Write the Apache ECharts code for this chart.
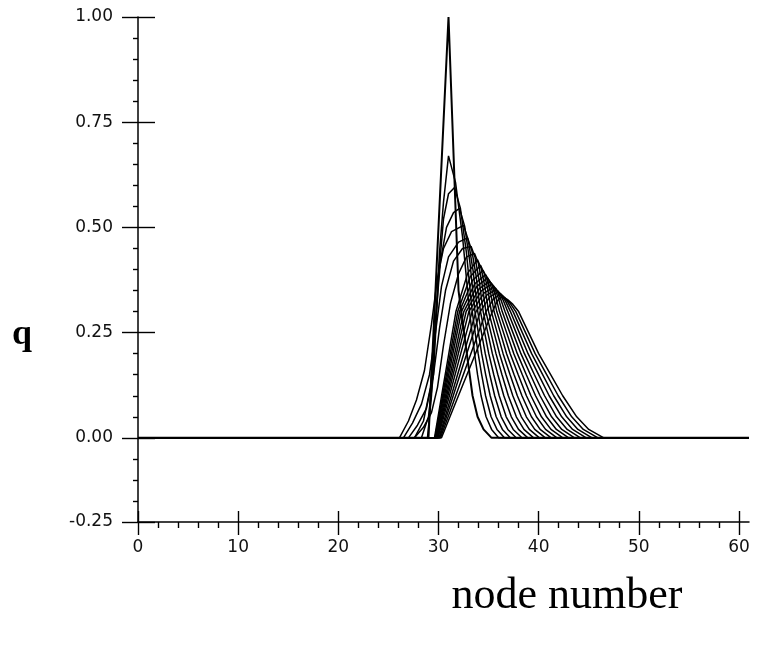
<!DOCTYPE html>
<html>
<head>
<meta charset="utf-8">
<script src="https://cdn.jsdelivr.net/npm/echarts@6/dist/echarts.min.js"></script>
<style>
html,body{margin:0;padding:0;background:#fff;}
#chart{width:759px;height:646px;}
</style>
</head>
<body>
<div id="chart"></div>
<script>
// ---- axis ticks / labels ----
const xMajor = [0, 10, 20, 30, 40, 50, 60];
const xMinor = [2,4,6,8,12,14,16,18,22,24,26,28,32,34,36,38,42,44,46,48,52,54,56,58];
const yMajorValues = [-0.2, 0, 0.25, 0.5, 0.75, 1.0];
const yMajorLabels = ['-0.25', '0.00', '0.25', '0.50', '0.75', '1.00'];
const yMinor = [-0.15,-0.1,-0.05,0.05,0.1,0.15,0.2,0.3,0.35,0.4,0.45,0.55,0.6,0.65,0.7,0.8,0.85,0.9,0.95];
const nodeFirst = 0, nodeLast = 61;

// ---- curves: [node, q] (non-zero part of each profile) ----
const c00 = [[29,0],[30,0.5],[31,1.0],[32,0.35],[32.55,0.25],[33,0.17],[33.4,0.1],[33.9,0.05],[34.5,0.02],[35.3,0]];
const c01 = [[28.9,0],[29.3,0.1],[29.7,0.27],[30.1,0.44],[30.5,0.56],[31,0.67],[31.7,0.607],[32.4,0.478],[33.1,0.3],[33.35,0.25],[33.6,0.2],[33.9,0.15],[34.25,0.1],[34.75,0.05],[35.3,0.02],[36.0,0]];
const c02 = [[28.3,0],[29,0.05],[29.5,0.15],[30,0.38],[30.5,0.52],[31,0.58],[31.6,0.595],[32.19,0.545],[32.78,0.442],[33.37,0.3],[33.66,0.25],[33.96,0.2],[34.31,0.15],[34.70,0.1],[35.25,0.05],[35.84,0.02],[36.58,0]];
const c03 = [[27.6,0],[28.5,0.04],[29.2,0.12],[29.7,0.28],[30.2,0.42],[30.8,0.5],[31.5,0.535],[32.1,0.545],[32.61,0.503],[33.13,0.418],[33.64,0.3],[33.98,0.25],[34.31,0.2],[34.71,0.15],[35.16,0.1],[35.76,0.05],[36.38,0.02],[37.17,0]];
const c04 = [[26.1,0],[27,0.04],[27.8,0.09],[28.6,0.16],[29.3,0.27],[29.9,0.38],[30.5,0.45],[31.3,0.49],[32.5,0.505],[32.97,0.47],[33.45,0.398],[33.92,0.3],[34.29,0.25],[34.67,0.2],[35.12,0.15],[35.61,0.1],[36.26,0.05],[36.92,0.02],[37.75,0]];
const c05 = [[26.5,0],[27.4,0.035],[28.3,0.08],[29.1,0.15],[29.7,0.25],[30.3,0.36],[31,0.43],[32,0.465],[32.9,0.475],[33.33,0.445],[33.76,0.384],[34.19,0.3],[34.61,0.25],[35.02,0.2],[35.52,0.15],[36.06,0.1],[36.76,0.05],[37.46,0.02],[38.33,0]];
const c06 = [[27,0],[27.9,0.03],[28.8,0.07],[29.5,0.15],[30.1,0.26],[30.7,0.35],[31.5,0.42],[32.4,0.45],[33.25,0.455],[33.65,0.429],[34.06,0.374],[34.46,0.3],[34.92,0.25],[35.38,0.2],[35.93,0.15],[36.52,0.1],[37.27,0.05],[37.99,0.02],[38.92,0]];
const c07 = [[27.6,0],[28.5,0.025],[29.3,0.06],[29.9,0.12],[30.5,0.22],[31.2,0.32],[32,0.39],[32.8,0.43],[33.6,0.438],[33.98,0.415],[34.35,0.366],[34.73,0.3],[35.23,0.25],[35.74,0.2],[36.34,0.15],[36.97,0.1],[37.77,0.05],[38.53,0.02],[39.5,0]];
const c08 = [[29.6,0],[30.31,0.1],[31.03,0.2],[31.74,0.3],[32.93,0.392],[33.9,0.423],[34.27,0.402],[34.63,0.359],[35.0,0.3],[35.55,0.25],[36.09,0.2],[36.74,0.15],[37.42,0.1],[38.27,0.05],[39.07,0.02],[40.08,0]];
const c09 = [[29.65,0],[30.41,0.1],[31.17,0.2],[31.92,0.3],[33.17,0.383],[34.2,0.41],[34.56,0.391],[34.92,0.353],[35.28,0.3],[35.86,0.25],[36.45,0.2],[37.15,0.15],[37.87,0.1],[38.77,0.05],[39.61,0.02],[40.67,0]];
const c10 = [[29.7,0],[30.5,0.1],[31.3,0.2],[32.1,0.3],[33.39,0.374],[34.45,0.398],[34.82,0.381],[35.18,0.347],[35.55,0.3],[36.18,0.25],[36.8,0.2],[37.55,0.15],[38.33,0.1],[39.28,0.05],[40.15,0.02],[41.25,0]];
const c11 = [[29.75,0],[30.6,0.1],[31.44,0.2],[32.29,0.3],[33.62,0.366],[34.7,0.388],[35.07,0.373],[35.45,0.342],[35.82,0.3],[36.49,0.25],[37.16,0.2],[37.96,0.15],[38.78,0.1],[39.78,0.05],[40.69,0.02],[41.83,0]];
const c12 = [[29.8,0],[30.71,0.1],[31.62,0.2],[32.53,0.3],[33.83,0.36],[34.9,0.38],[35.3,0.366],[35.69,0.338],[36.09,0.3],[36.8,0.25],[37.52,0.2],[38.37,0.15],[39.23,0.1],[40.28,0.05],[41.23,0.02],[42.42,0]];
const c13 = [[29.85,0],[30.82,0.1],[31.79,0.2],[32.76,0.3],[34.05,0.354],[35.1,0.372],[35.52,0.36],[35.94,0.335],[36.36,0.3],[37.12,0.25],[37.87,0.2],[38.77,0.15],[39.69,0.1],[40.79,0.05],[41.77,0.02],[43.0,0]];
const c14 = [[29.9,0],[30.94,0.1],[31.98,0.2],[33.03,0.3],[34.28,0.349],[35.3,0.365],[35.75,0.354],[36.19,0.331],[36.64,0.3],[37.43,0.25],[38.23,0.2],[39.18,0.15],[40.14,0.1],[41.29,0.05],[42.31,0.02],[43.58,0]];
const c15 = [[29.95,0],[31.09,0.1],[32.22,0.2],[33.36,0.3],[34.54,0.344],[35.5,0.358],[35.97,0.348],[36.44,0.328],[36.91,0.3],[37.75,0.25],[38.58,0.2],[39.58,0.15],[40.59,0.1],[41.79,0.05],[42.85,0.02],[44.17,0]];
const c16 = [[30.05,0],[31.28,0.1],[32.52,0.2],[33.75,0.3],[34.82,0.339],[35.7,0.352],[36.19,0.343],[36.69,0.325],[37.18,0.3],[38.06,0.25],[38.94,0.2],[39.99,0.15],[41.05,0.1],[42.3,0.05],[43.39,0.02],[44.75,0]];
const c17 = [[30.12,0],[31.47,0.1],[32.82,0.2],[34.17,0.3],[35.12,0.335],[35.9,0.346],[36.42,0.338],[36.93,0.322],[37.45,0.3],[38.37,0.25],[39.3,0.2],[40.4,0.15],[41.5,0.1],[42.8,0.05],[43.92,0.02],[45.33,0]];
const c18 = [[30.2,0],[31.72,0.1],[33.23,0.2],[34.75,0.3],[35.49,0.33],[36.1,0.34],[36.64,0.333],[37.18,0.319],[37.72,0.3],[38.69,0.25],[39.65,0.2],[40.8,0.15],[41.95,0.1],[43.3,0.05],[44.46,0.02],[45.92,0]];
const c19 = [[30.3,0],[31.99,0.1],[33.69,0.2],[35.38,0.3],[35.89,0.326],[36.3,0.335],[36.87,0.329],[37.43,0.317],[38.0,0.3],[39.0,0.25],[40.0,0.2],[41.2,0.15],[42.4,0.1],[43.8,0.05],[45.0,0.02],[46.5,0]];

const curves = [c00,c01,c02,c03,c04,c05,c06,c07,c08,c09,c10,c11,c12,c13,c14,c15,c16,c17,c18,c19];

const ink = '#000';
const tickStyle = {color: ink, width: 1.4};

function yLabel(v) {
  for (let i = 0; i < yMajorValues.length; i++) {
    if (Math.abs(yMajorValues[i] - v) < 1e-6) return yMajorLabels[i];
  }
  return '';
}

const chart = echarts.init(document.getElementById('chart'), null, {renderer: 'canvas'});

const baseX = {type: 'value', min: nodeFirst, max: nodeLast, splitLine: {show: false}};
const baseY = {type: 'value', min: -0.2, max: 1.0, splitLine: {show: false}};

const option = {
  animation: false,
  backgroundColor: '#fff',
  grid: {left: 138, top: 17, width: 611, height: 505, containLabel: false},
  xAxis: [
    Object.assign({}, baseX, {
      position: 'bottom',
      axisLine: {show: true, onZero: false, lineStyle: {color: ink, width: 1.5}},
      axisTick: {show: true, customValues: xMajor, length: 13, lineStyle: tickStyle},
      axisLabel: {show: true, customValues: xMajor, margin: 17, fontSize: 17,
        fontFamily: 'DejaVu Sans', color: '#111', formatter: v => String(v)}
    }),
    Object.assign({}, baseX, {
      position: 'bottom',
      axisLine: {show: false, onZero: false},
      axisTick: {show: true, inside: true, customValues: xMajor, length: 11, lineStyle: tickStyle},
      axisLabel: {show: false}
    }),
    Object.assign({}, baseX, {
      position: 'bottom',
      axisLine: {show: false, onZero: false},
      axisTick: {show: true, customValues: xMinor, length: 6, lineStyle: tickStyle},
      axisLabel: {show: false}
    })
  ],
  yAxis: [
    Object.assign({}, baseY, {
      position: 'left',
      axisLine: {show: true, onZero: false, lineStyle: {color: ink, width: 1.5}},
      axisTick: {show: true, customValues: yMajorValues, length: 16, lineStyle: tickStyle},
      axisLabel: {show: true, customValues: yMajorValues, margin: 25, fontSize: 17,
        fontFamily: 'DejaVu Sans', color: '#111', formatter: yLabel}
    }),
    Object.assign({}, baseY, {
      position: 'left',
      axisLine: {show: false, onZero: false},
      axisTick: {show: true, inside: true, customValues: yMajorValues, length: 17, lineStyle: tickStyle},
      axisLabel: {show: false}
    }),
    Object.assign({}, baseY, {
      position: 'left',
      axisLine: {show: false, onZero: false},
      axisTick: {show: true, customValues: yMinor, length: 5, lineStyle: tickStyle},
      axisLabel: {show: false}
    })
  ],
  graphic: [
    {type: 'text', x: 22, y: 335, silent: true,
      style: {text: 'q', font: 'bold 36px "Liberation Serif"', fill: ink,
        textAlign: 'center', textVerticalAlign: 'middle', align: 'center', verticalAlign: 'middle'}},
    {type: 'text', x: 567, y: 596, silent: true,
      style: {text: 'node number', font: '44px "Liberation Serif"', fill: ink,
        textAlign: 'center', textVerticalAlign: 'middle', align: 'center', verticalAlign: 'middle'}}
  ],
  series: curves.map((c, i) => ({
    type: 'line',
    xAxisIndex: 0,
    yAxisIndex: 0,
    data: [[nodeFirst, 0]].concat(c, [[nodeLast, 0]]),
    symbol: 'none',
    smooth: false,
    silent: true,
    lineStyle: {color: ink, width: i === 0 ? 2 : 1.5}
  }))
};

chart.setOption(option);
</script>
</body>
</html>
